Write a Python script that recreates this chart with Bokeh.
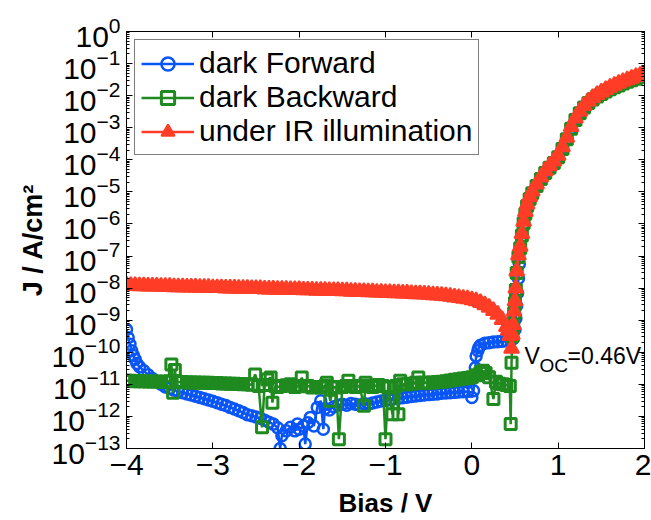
import numpy as np
from math import pi
from bokeh.plotting import figure
from bokeh.models import (Range1d, FixedTicker, LinearAxis, LogAxis, Label,
                          Legend, LegendItem, CustomJSTickFormatter, LogTickFormatter)
from bokeh.embed import file_html
from bokeh.resources import INLINE

# ---------------- data (bias in V, log10 of |J| in A/cm^2) ----------------
bias_forward = [
    -4.00, -3.98, -3.96, -3.94, -3.92, -3.90, -3.88, -3.85, -3.80, -3.75,
    -3.70, -3.65, -3.60, -3.55, -3.50, -3.45, -3.40, -3.35, -3.30, -3.25,
    -3.20, -3.15, -3.10, -3.05, -3.00, -2.95, -2.90, -2.85, -2.80, -2.75,
    -2.70, -2.65, -2.60, -2.55, -2.50, -2.45, -2.40, -2.35, -2.30, -2.25,
    -2.22, -2.20, -2.15, -2.10, -2.05, -2.02, -2.00, -1.95, -1.93, -1.90,
    -1.87, -1.83, -1.79, -1.75, -1.72, -1.70, -1.65, -1.60, -1.55, -1.50,
    -1.45, -1.40, -1.35, -1.30, -1.25, -1.20, -1.15, -1.10, -1.05, -1.00,
    -0.95, -0.90, -0.85, -0.80, -0.75, -0.70, -0.65, -0.60, -0.55, -0.50,
    -0.45, -0.40, -0.35, -0.30, -0.25, -0.20, -0.15, -0.10, -0.05, 0.00,
    0.02, 0.04, 0.05, 0.07, 0.08, 0.10, 0.15, 0.20, 0.25, 0.30,
    0.35, 0.40, 0.45, 0.48, 0.50, 0.51, 0.52, 0.53, 0.54, 0.55,
    0.56, 0.58, 0.60, 0.62, 0.64, 0.67, 0.70, 0.75, 0.80, 0.85,
    0.90, 0.95, 1.00, 1.05, 1.10, 1.15, 1.20, 1.25, 1.30, 1.35,
    1.40, 1.45, 1.50, 1.55, 1.60, 1.65, 1.70, 1.75, 1.80, 1.85,
    1.90, 1.95, 2.00]
log10_j_forward = [
    -9.29, -9.55, -9.75, -9.95, -10.10, -10.22, -10.35, -10.45, -10.58, -10.70,
    -10.82, -10.92, -11.00, -11.08, -11.13, -11.18, -11.22, -11.26, -11.30, -11.33,
    -11.37, -11.41, -11.45, -11.49, -11.53, -11.57, -11.62, -11.66, -11.72, -11.77,
    -11.82, -11.88, -11.95, -11.98, -12.02, -12.06, -12.12, -12.18, -12.24, -12.35,
    -13.00, -12.60, -12.45, -12.34, -12.45, -12.24, -12.40, -12.30, -12.86, -12.20,
    -12.03, -12.30, -11.72, -11.51, -12.40, -11.75, -11.80, -11.70, -11.65, -11.62,
    -11.65, -11.60, -11.62, -11.65, -11.60, -11.62, -11.58, -11.55, -11.52, -11.50,
    -11.48, -11.45, -11.43, -11.42, -11.40, -11.38, -11.36, -11.35, -11.33, -11.32,
    -11.31, -11.30, -11.28, -11.27, -11.26, -11.25, -11.24, -11.23, -11.22, -11.41,
    -11.20, -10.48, -10.12, -9.95, -9.86, -9.78, -9.72, -9.70, -9.68, -9.67,
    -9.66, -9.64, -9.62, -9.58, -9.30, -8.95, -8.55, -8.15, -7.70, -7.25,
    -6.80, -6.40, -6.00, -5.70, -5.45, -5.22, -5.04, -4.82, -4.60, -4.41,
    -4.25, -4.10, -3.92, -3.66, -3.36, -3.03, -2.76, -2.55, -2.37, -2.23,
    -2.12, -2.03, -1.95, -1.87, -1.80, -1.74, -1.68, -1.62, -1.57, -1.52,
    -1.47, -1.43, -1.39]

bias_backward = [
    -4.00, -3.95, -3.90, -3.85, -3.80, -3.75, -3.70, -3.65, -3.60, -3.55,
    -3.50, -3.48, -3.46, -3.44, -3.42, -3.40, -3.35, -3.30, -3.25, -3.20,
    -3.15, -3.10, -3.05, -3.00, -2.95, -2.90, -2.85, -2.80, -2.75, -2.70,
    -2.65, -2.60, -2.55, -2.51, -2.47, -2.43, -2.40, -2.37, -2.33, -2.31,
    -2.28, -2.25, -2.20, -2.15, -2.10, -2.05, -2.00, -1.97, -1.93, -1.90,
    -1.85, -1.80, -1.75, -1.70, -1.68, -1.64, -1.60, -1.57, -1.54, -1.50,
    -1.46, -1.43, -1.40, -1.35, -1.30, -1.25, -1.23, -1.20, -1.15, -1.12,
    -1.08, -1.03, -1.00, -0.97, -0.92, -0.88, -0.85, -0.83, -0.80, -0.75,
    -0.70, -0.65, -0.62, -0.58, -0.55, -0.50, -0.45, -0.40, -0.35, -0.30,
    -0.25, -0.20, -0.15, -0.10, -0.05, 0.00, 0.05, 0.10, 0.13, 0.16,
    0.20, 0.25, 0.28, 0.32, 0.36, 0.40, 0.44, 0.45, 0.46, 0.47,
    0.48, 0.49, 0.50, 0.51, 0.52, 0.54, 0.56, 0.58, 0.60, 0.62,
    0.64, 0.67, 0.70, 0.75, 0.80, 0.85, 0.90, 0.95, 1.00, 1.05,
    1.10, 1.15, 1.20, 1.25, 1.30, 1.35, 1.40, 1.45, 1.50, 1.55,
    1.60, 1.65, 1.70, 1.75, 1.80, 1.85, 1.90, 1.95, 2.00]
log10_j_backward = [
    -10.89, -10.89, -10.90, -10.90, -10.90, -10.91, -10.91, -10.91, -10.92, -10.92,
    -10.90, -10.38, -11.26, -10.55, -10.92, -10.93, -10.93, -10.94, -10.94, -10.94,
    -10.95, -10.95, -10.95, -10.96, -10.96, -10.97, -10.97, -10.98, -10.98, -10.99,
    -11.00, -11.00, -11.01, -10.69, -11.05, -12.34, -11.02, -10.85, -10.79, -11.57,
    -11.05, -11.08, -11.05, -11.03, -11.00, -11.08, -11.05, -10.79, -11.06, -11.05,
    -11.10, -11.08, -11.10, -11.05, -10.95, -11.51, -11.08, -11.10, -12.71, -11.08,
    -11.05, -10.89, -11.05, -11.08, -11.05, -11.67, -10.95, -11.05, -11.08, -11.05,
    -11.02, -11.05, -12.71, -11.10, -11.93, -11.05, -11.93, -10.89, -11.00, -11.00,
    -10.98, -10.95, -10.79, -10.95, -10.95, -10.95, -10.94, -10.93, -10.92, -10.90,
    -10.88, -10.86, -10.84, -10.82, -10.80, -10.78, -10.72, -10.64, -10.58, -10.65,
    -10.78, -11.46, -10.92, -10.98, -11.00, -11.02, -11.05, -12.24, -10.33, -9.50,
    -9.20, -8.78, -8.46, -8.06, -7.53, -7.03, -6.76, -6.36, -5.98, -5.68,
    -5.44, -5.22, -5.04, -4.82, -4.60, -4.41, -4.25, -4.10, -3.92, -3.66,
    -3.36, -3.03, -2.76, -2.55, -2.37, -2.23, -2.12, -2.03, -1.95, -1.87,
    -1.80, -1.74, -1.68, -1.62, -1.57, -1.52, -1.47, -1.43, -1.39]

bias_ir = [
    -4.00, -3.95, -3.90, -3.85, -3.80, -3.75, -3.70, -3.65, -3.60, -3.55,
    -3.50, -3.45, -3.40, -3.35, -3.30, -3.25, -3.20, -3.15, -3.10, -3.05,
    -3.00, -2.95, -2.90, -2.85, -2.80, -2.75, -2.70, -2.65, -2.60, -2.55,
    -2.50, -2.45, -2.40, -2.35, -2.30, -2.25, -2.20, -2.15, -2.10, -2.05,
    -2.00, -1.95, -1.90, -1.85, -1.80, -1.75, -1.70, -1.65, -1.60, -1.55,
    -1.50, -1.45, -1.40, -1.35, -1.30, -1.25, -1.20, -1.15, -1.10, -1.05,
    -1.00, -0.95, -0.90, -0.85, -0.80, -0.75, -0.70, -0.65, -0.60, -0.55,
    -0.50, -0.45, -0.40, -0.35, -0.30, -0.25, -0.20, -0.15, -0.10, -0.05,
    0.00, 0.05, 0.10, 0.15, 0.20, 0.25, 0.30, 0.35, 0.40,
    0.42, 0.44, 0.46, 0.47, 0.48, 0.49, 0.50, 0.51, 0.52, 0.54,
    0.56, 0.58, 0.60, 0.62, 0.64, 0.67, 0.70, 0.75, 0.80, 0.85,
    0.90, 0.95, 1.00, 1.05, 1.10, 1.15, 1.20, 1.25, 1.30, 1.35,
    1.40, 1.45, 1.50, 1.55, 1.60, 1.65, 1.70, 1.75, 1.80, 1.85,
    1.90, 1.95, 2.00]
log10_j_ir = [
    -7.91, -7.92, -7.92, -7.93, -7.93, -7.94, -7.94, -7.94, -7.95, -7.95,
    -7.95, -7.96, -7.96, -7.96, -7.97, -7.97, -7.97, -7.98, -7.98, -7.98,
    -7.99, -7.99, -7.99, -8.00, -8.00, -8.00, -8.01, -8.01, -8.01, -8.02,
    -8.02, -8.02, -8.03, -8.03, -8.03, -8.04, -8.04, -8.04, -8.05, -8.05,
    -8.05, -8.06, -8.06, -8.06, -8.07, -8.07, -8.07, -8.08, -8.08, -8.08,
    -8.09, -8.09, -8.10, -8.10, -8.11, -8.11, -8.12, -8.12, -8.13, -8.13,
    -8.14, -8.14, -8.15, -8.15, -8.16, -8.16, -8.17, -8.18, -8.18, -8.19,
    -8.20, -8.21, -8.22, -8.23, -8.24, -8.26, -8.28, -8.30, -8.32, -8.34,
    -8.37, -8.40, -8.45, -8.52, -8.60, -8.70, -8.82, -8.98, -9.20,
    -9.32, -9.48, -9.88, -9.45, -9.14, -8.72, -8.40, -8.00, -7.47, -6.97,
    -6.70, -6.30, -5.92, -5.62, -5.38, -5.16, -4.98, -4.76, -4.54, -4.35,
    -4.19, -4.04, -3.86, -3.60, -3.30, -2.97, -2.70, -2.49, -2.31, -2.17,
    -2.06, -1.97, -1.89, -1.81, -1.74, -1.68, -1.62, -1.56, -1.51, -1.46,
    -1.41, -1.37, -1.33]

series_labels = ["dark Forward", "dark Backward", "under IR illumination"]
x_ticks = [-4, -3, -2, -1, 0, 1, 2]
x_tick_labels = ["\u22124", "\u22123", "\u22122", "\u22121", "0", "1", "2"]
y_decades = list(range(-13, 1))
voc_value = 0.46
voc_text = "=0.46V"
x_title = "Bias / V"
y_title = "J / A/cm\u00b2"

# ---------------- style ----------------
FONT = "Liberation Sans"
BLUE = "#0a55f5"
GREEN = "#1f8a1f"
RED = "#ff3d26"

p = figure(width=651, height=520,
           x_range=Range1d(-4, 2), y_range=Range1d(10.0 ** y_decades[0], 10.0 ** y_decades[-1]),
           y_axis_type="log", output_backend="svg", toolbar_location=None,
           min_border_left=126, min_border_right=7, min_border_top=31, min_border_bottom=67,
           background_fill_color="white", border_fill_color="white")
p.grid.visible = False
p.outline_line_color = "black"
p.outline_line_width = 1

empty = CustomJSTickFormatter(code="return ''")
y_major = [10.0 ** k for k in y_decades]
y_minor = [m * 10.0 ** k for k in y_decades[:-1] for m in range(2, 10)]


def style_axis(ax, minor=True):
    ax.axis_line_color = "black"
    ax.major_tick_line_color = "black"
    ax.minor_tick_line_color = "black"
    ax.major_tick_in = 6
    ax.major_tick_out = 0
    ax.minor_tick_in = 3 if minor else 0
    ax.minor_tick_out = 0
    ax.major_label_text_color = "black"
    ax.axis_label_text_color = "black"


xa = p.xaxis[0]
xa.ticker = FixedTicker(ticks=x_ticks)
xa.major_label_overrides = {t: s for t, s in zip(x_ticks, x_tick_labels)}
xa.major_label_text_font = FONT
xa.major_label_text_font_size = "30px"
xa.major_label_standoff = 6
xa.axis_label = x_title
xa.axis_label_text_font = FONT
xa.axis_label_text_font_size = "26px"
xa.axis_label_text_font_style = "bold"
xa.axis_label_standoff = 10
style_axis(xa, minor=False)

ya = p.yaxis[0]
ya.ticker = FixedTicker(ticks=y_major, minor_ticks=y_minor)
ya.formatter = LogTickFormatter()
ya.major_label_text_font = FONT
ya.major_label_text_font_size = "30px"
ya.major_label_standoff = 6
ya.axis_label = y_title
ya.axis_label_text_font = FONT
ya.axis_label_text_font_size = "27px"
ya.axis_label_text_font_style = "bold"
ya.axis_label_standoff = 1
style_axis(ya)

top = LinearAxis(ticker=FixedTicker(ticks=x_ticks), formatter=empty, major_label_standoff=0)
style_axis(top, minor=False)
p.add_layout(top, "above")
right = LogAxis(ticker=FixedTicker(ticks=y_major, minor_ticks=y_minor), formatter=empty,
                major_label_standoff=0)
style_axis(right)
p.add_layout(right, "right")

# series
j_forward = [10.0 ** v for v in log10_j_forward]
j_backward = [10.0 ** v for v in log10_j_backward]
j_ir = [10.0 ** v for v in log10_j_ir]

lf = p.line(bias_forward, j_forward, line_color=BLUE, line_width=2.5)
sf = p.scatter(bias_forward, j_forward, marker="circle", size=11, line_color=BLUE,
               line_width=2.5, fill_color=None)
lb = p.line(bias_backward, j_backward, line_color=GREEN, line_width=2.5)
sb = p.scatter(bias_backward, j_backward, marker="square", size=11, line_color=GREEN,
               line_width=3, fill_color=None)
li = p.line(bias_ir, j_ir, line_color=RED, line_width=2.5)
si = p.scatter(bias_ir, j_ir, marker="triangle", size=15, line_color=RED,
               line_width=2, fill_color=RED)

legend = Legend(items=[LegendItem(label=series_labels[0], renderers=[lf, sf]),
                       LegendItem(label=series_labels[1], renderers=[lb, sb]),
                       LegendItem(label=series_labels[2], renderers=[li, si])],
                location="top_left", margin=8, padding=6, spacing=0,
                glyph_width=53, glyph_height=33, label_height=33, label_standoff=5,
                label_text_font=FONT, label_text_font_size="30px", label_text_color="black",
                border_line_color="black", border_line_width=1,
                background_fill_color="white", background_fill_alpha=1)
p.add_layout(legend)

# V_OC annotation anchored at the open-circuit point of the IR curve
voc_j = j_ir[bias_ir.index(voc_value)]
p.add_layout(Label(x=voc_value, y=voc_j, text="V", x_offset=13, y_offset=-7.5,
                   text_baseline="alphabetic", text_font=FONT, text_font_size="23px",
                   text_color="black"))
p.add_layout(Label(x=voc_value, y=voc_j, text="OC", x_offset=28, y_offset=-17.5,
                   text_baseline="alphabetic", text_font=FONT, text_font_size="19px",
                   text_color="black"))
p.add_layout(Label(x=voc_value, y=voc_j, text=voc_text, x_offset=56, y_offset=-7.5,
                   text_baseline="alphabetic", text_font=FONT, text_font_size="23px",
                   text_color="black"))

open("out.html", "w").write(file_html(p, INLINE))
